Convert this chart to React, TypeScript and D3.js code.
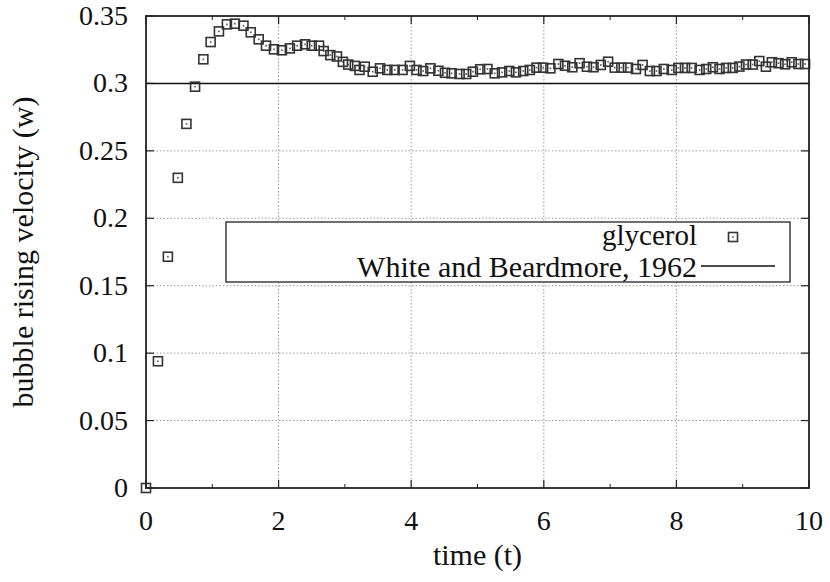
import React from "react";
import * as d3 from "d3";

const timeValues = [
  0, 0.18, 0.33, 0.48, 0.61, 0.74, 0.865, 0.975, 1.1, 1.22, 1.34, 1.47, 1.58, 1.7, 1.81, 1.93,
  2.05, 2.17, 2.28, 2.4, 2.5, 2.61, 2.68, 2.78, 2.88, 2.97, 3.05, 3.15, 3.22, 3.3, 3.42, 3.53,
  3.64, 3.75, 3.87, 3.98, 4.08, 4.18, 4.29, 4.41, 4.51, 4.61, 4.73, 4.83, 4.93, 5.04, 5.15,
  5.26, 5.37, 5.48, 5.58, 5.69, 5.79, 5.89, 5.99, 6.1, 6.22, 6.32, 6.43, 6.54, 6.65, 6.75,
  6.86, 6.97, 7.07, 7.17, 7.27, 7.39, 7.49, 7.6, 7.7, 7.81, 7.93, 8.03, 8.13, 8.23, 8.35,
  8.45, 8.55, 8.65, 8.75, 8.85, 8.95, 9.05, 9.15, 9.25, 9.35, 9.44, 9.54, 9.64, 9.74, 9.84, 9.94,
];
const glycerolValues = [
  0, 0.094, 0.1715, 0.23, 0.27, 0.2976, 0.3179, 0.3307, 0.3386, 0.3438, 0.3443, 0.3428, 0.3379,
  0.3327, 0.328, 0.3253, 0.3246, 0.326, 0.328, 0.329, 0.328, 0.328, 0.324, 0.321, 0.32, 0.316,
  0.314, 0.313, 0.31, 0.3124, 0.3087, 0.3112, 0.31, 0.31, 0.31, 0.313, 0.31, 0.3092, 0.3112,
  0.3094, 0.3079, 0.3075, 0.307, 0.307, 0.3087, 0.3105, 0.3107, 0.3075, 0.3082, 0.3092, 0.3082,
  0.3092, 0.31, 0.3117, 0.3117, 0.3112, 0.3144, 0.3131, 0.312, 0.315, 0.3124, 0.312, 0.3137,
  0.3161, 0.3117, 0.3117, 0.3117, 0.3107, 0.3137, 0.3092, 0.3092, 0.3107, 0.31, 0.3115, 0.3115,
  0.3115, 0.31, 0.3107, 0.312, 0.3107, 0.3115, 0.3115, 0.3125, 0.314, 0.314, 0.3166, 0.3124,
  0.3157, 0.315, 0.3142, 0.3157, 0.3144, 0.3144,
];
const referenceValue = 0.3;
const xTicks = [0, 2, 4, 6, 8, 10];
const xMinorTicks = [1, 3, 5, 7, 9];
const yTicks = [0, 0.05, 0.1, 0.15, 0.2, 0.25, 0.3, 0.35];
const yTickLabels = ["0", "0.05", "0.1", "0.15", "0.2", "0.25", "0.3", "0.35"];
const seriesNames = ["glycerol", "White and Beardmore, 1962"];
const xLabel = "time (t)";
const yLabel = "bubble rising velocity (w)";

const W = 830;
const H = 582;
const L = 146, R = 809, T = 16, B = 488;
const FONT = "'Liberation Serif', 'DejaVu Serif', serif";

export default function App() {
  const x = d3.scaleLinear().domain([0, 10]).range([L, R]);
  const y = d3.scaleLinear().domain([0, 0.35]).range([B, T]);
  const data = timeValues.map((t, i) => ({ t, v: glycerolValues[i] }));
  const gridColor = "#999";
  const axisColor = "#222";
  const ms = 9;

  const Marker = ({ cx, cy }: { cx: number; cy: number }) => (
    <g>
      <rect x={cx - ms / 2} y={cy - ms / 2} width={ms} height={ms} fill="none" stroke="#333" strokeWidth={1.6} />
      <rect x={cx - 0.8} y={cy - 0.8} width={1.6} height={1.6} fill="#555" />
    </g>
  );

  return (
    <svg width={W} height={H} style={{ position: "absolute", left: 0, top: 0, background: "#fff" }}>
      <rect x={0} y={0} width={W} height={H} fill="#fff" />
      {/* grid */}
      {xTicks.slice(1, -1).map((t) => (
        <line key={"gx" + t} x1={x(t)} x2={x(t)} y1={T} y2={B} stroke={gridColor} strokeWidth={1} strokeDasharray="1.5,2" />
      ))}
      {yTicks.slice(1, -1).map((v) => (
        <line key={"gy" + v} x1={L} x2={R} y1={y(v)} y2={y(v)} stroke={gridColor} strokeWidth={1} strokeDasharray="1.5,2" />
      ))}
      {/* ticks */}
      {xTicks.map((t) => (
        <g key={"tx" + t}>
          <line x1={x(t)} x2={x(t)} y1={B} y2={B - 8} stroke={axisColor} strokeWidth={1.2} />
          <line x1={x(t)} x2={x(t)} y1={T} y2={T + 8} stroke={axisColor} strokeWidth={1.2} />
        </g>
      ))}
      {xMinorTicks.map((t) => (
        <g key={"mx" + t}>
          <line x1={x(t)} x2={x(t)} y1={B} y2={B - 4} stroke={axisColor} strokeWidth={1} />
          <line x1={x(t)} x2={x(t)} y1={T} y2={T + 4} stroke={axisColor} strokeWidth={1} />
        </g>
      ))}
      {yTicks.map((v) => (
        <g key={"ty" + v}>
          <line x1={L} x2={L + 8} y1={y(v)} y2={y(v)} stroke={axisColor} strokeWidth={1.2} />
          <line x1={R} x2={R - 8} y1={y(v)} y2={y(v)} stroke={axisColor} strokeWidth={1.2} />
        </g>
      ))}
      {/* reference line */}
      <line x1={L} x2={R} y1={y(referenceValue)} y2={y(referenceValue)} stroke="#111" strokeWidth={1.6} />
      {/* data */}
      {data.map((d, i) => (
        <Marker key={i} cx={x(d.t)} cy={y(d.v)} />
      ))}
      {/* frame */}
      <rect x={L} y={T} width={R - L} height={B - T} fill="none" stroke={axisColor} strokeWidth={1.8} />
      {/* tick labels */}
      {xTicks.map((t) => (
        <text key={"lx" + t} x={x(t)} y={530} textAnchor="middle" fontFamily={FONT} fontSize={28} fill="#111">
          {String(t)}
        </text>
      ))}
      {yTicks.map((v, i) => (
        <text key={"ly" + v} x={128} y={y(v) + 9} textAnchor="end" fontFamily={FONT} fontSize={28} fill="#111">
          {yTickLabels[i]}
        </text>
      ))}
      {/* axis labels */}
      <text x={(L + R) / 2} y={565} textAnchor="middle" fontFamily={FONT} fontSize={30} fill="#111">
        {xLabel}
      </text>
      <text
        transform={`translate(33, ${(T + B) / 2}) rotate(-90)`}
        textAnchor="middle"
        fontFamily={FONT}
        fontSize={30}
        fill="#111"
      >
        {yLabel}
      </text>
      {/* legend */}
      <rect x={226} y={222} width={564} height={60} fill="#fff" stroke="#222" strokeWidth={1.3} />
      <text x={697} y={245} textAnchor="end" fontFamily={FONT} fontSize={29} fill="#111">
        {seriesNames[0]}
      </text>
      <Marker cx={733} cy={237} />
      <text x={697} y={277} textAnchor="end" fontFamily={FONT} fontSize={30} fill="#111">
        {seriesNames[1]}
      </text>
      <line x1={701} x2={775} y1={266} y2={266} stroke="#111" strokeWidth={1.6} />
    </svg>
  );
}
